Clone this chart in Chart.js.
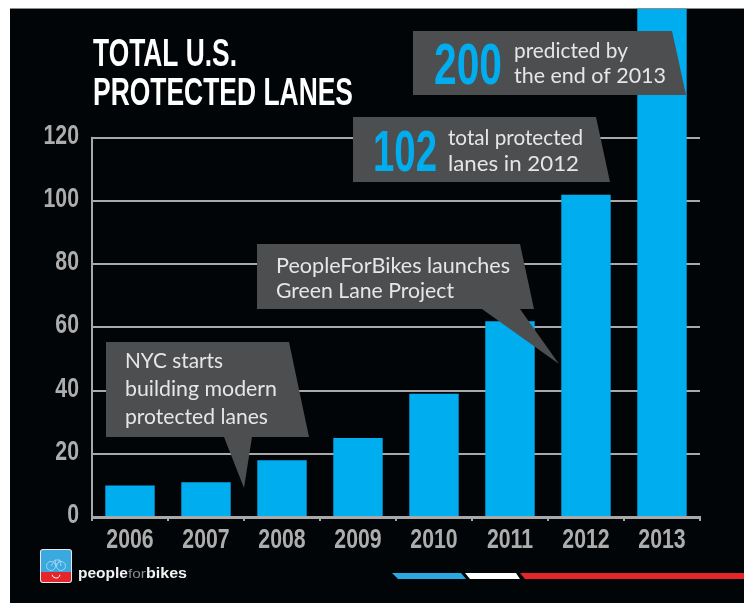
<!DOCTYPE html>
<html>
<head>
<meta charset="utf-8">
<style>
html, body { margin: 0; padding: 0; background: #fff; }
canvas { display: block; }
</style>
</head>
<body>
<canvas id="lanes" width="744" height="603"></canvas>
<script src="https://cdn.jsdelivr.net/npm/chart.js@4/dist/chart.umd.min.js"></script>
<script>
var years = ['2006', '2007', '2008', '2009', '2010', '2011', '2012', '2013'];
var lanes = [10, 11, 18, 25, 39, 62, 102, 200];
var yTicks = [0, 20, 40, 60, 80, 100, 120];

var NARROW = '"Liberation Sans", sans-serif';
var SOFT = 'Lato, "Noto Sans", sans-serif';
var BLUE = '#00aeef';
var GREY = '#4d4e50';
var LINE = '#a9a9a9';
var LABEL = '#adadad';
var NOTE = '#e6e6e6';

function polygon(ctx, pts, color) {
    ctx.fillStyle = color;
    ctx.beginPath();
    ctx.moveTo(pts[0][0], pts[0][1]);
    for (var i = 1; i < pts.length; i++) {
        ctx.lineTo(pts[i][0], pts[i][1]);
    }
    ctx.closePath();
    ctx.fill();
}

// draws text on a baseline and squeezes it to the wanted width
function fitText(ctx, text, x, y, width, font, color) {
    ctx.save();
    ctx.font = font;
    ctx.fillStyle = color;
    ctx.textAlign = 'left';
    ctx.textBaseline = 'alphabetic';
    ctx.translate(x, y);
    ctx.scale(width / ctx.measureText(text).width, 1);
    ctx.fillText(text, 0, 0);
    ctx.restore();
}

// no condensed face is installed, so the axis labels get squeezed by hand
function tickText(ctx, text, x, y, align) {
    ctx.save();
    ctx.font = 'bold 28px ' + NARROW;
    ctx.fillStyle = LABEL;
    ctx.textAlign = align;
    ctx.textBaseline = 'alphabetic';
    ctx.translate(x, y);
    ctx.scale(0.76, 1);
    ctx.fillText(text, 0, 0);
    ctx.restore();
}

function drawLogo(ctx) {
    ctx.fillStyle = '#e8e8e8';
    ctx.beginPath();
    ctx.roundRect(40, 549, 32, 34, 3);
    ctx.fill();
    ctx.save();
    ctx.beginPath();
    ctx.roundRect(41, 550, 30, 32, 2);
    ctx.clip();
    ctx.fillStyle = '#3aa9e0';
    ctx.fillRect(41, 550, 30, 22);
    ctx.fillStyle = '#e4262a';
    ctx.fillRect(41, 572, 30, 10);
    ctx.restore();
    // bike and smile
    ctx.strokeStyle = '#9fd4ef';
    ctx.lineWidth = 1;
    ctx.beginPath();
    ctx.arc(51, 566, 4.5, 0, Math.PI * 2);
    ctx.moveTo(65.5, 566);
    ctx.arc(61, 566, 4.5, 0, Math.PI * 2);
    ctx.moveTo(51, 566);
    ctx.lineTo(55, 560);
    ctx.lineTo(60, 560);
    ctx.lineTo(61, 566);
    ctx.moveTo(55, 560);
    ctx.lineTo(56, 566);
    ctx.lineTo(60, 560);
    ctx.stroke();
    ctx.strokeStyle = '#fff';
    ctx.beginPath();
    ctx.arc(56, 574, 4, 0.2, Math.PI - 0.2);
    ctx.stroke();

    fitText(ctx, 'people', 78, 578, 50, 'bold 15px "Liberation Sans", sans-serif', '#f2f2f2');
    fitText(ctx, 'for', 128, 578, 18, '12px "Liberation Sans", sans-serif', '#8a8a8a');
    fitText(ctx, 'bikes', 146, 578, 41, 'bold 15px "Liberation Sans", sans-serif', '#f2f2f2');
}

var backdrop = {
    id: 'backdrop',
    beforeDraw: function(chart) {
        var ctx = chart.ctx;
        ctx.fillStyle = '#8c8c8c';
        ctx.fillRect(10, 8, 734, 1);
        ctx.fillStyle = '#020507';
        ctx.fillRect(10, 9, 734, 594);
    },
    beforeDatasetsDraw: function(chart) {     // left axis stops at the 120 line
        var ctx = chart.ctx;
        var y = chart.scales.y;
        ctx.fillStyle = LINE;
        ctx.fillRect(chart.chartArea.left - 1, y.getPixelForValue(120) - 1, 2, y.getPixelForValue(0) - y.getPixelForValue(120) + 2);
    }
};

var notes = {
    id: 'notes',
    afterDraw: function(chart) {
        var ctx = chart.ctx;
        var x = chart.scales.x;
        var y = chart.scales.y;

        // axis labels, placed by the scales
        x.ticks.forEach(function(tick, i) {
            tickText(ctx, x.getLabelForValue(tick.value), x.getPixelForTick(i), 548, 'center');
        });
        y.ticks.forEach(function(tick, i) {
            tickText(ctx, String(tick.value), 79, y.getPixelForTick(i) + 6, 'right');
        });

        fitText(ctx, 'TOTAL U.S.', 93, 66, 144, 'bold 38px ' + NARROW, '#fff');
        fitText(ctx, 'PROTECTED LANES', 93, 105, 260, 'bold 38px ' + NARROW, '#fff');

        polygon(ctx, [[413, 31], [672, 31], [686, 95], [413, 95]], GREY);
        fitText(ctx, '200', 434, 84, 68, 'bold 58px ' + NARROW, BLUE);
        fitText(ctx, 'predicted by', 514, 58, 114, '21px ' + SOFT, NOTE);
        fitText(ctx, 'the end of 2013', 514, 83, 152, '21px ' + SOFT, NOTE);

        polygon(ctx, [[353, 117], [596, 117], [610, 182], [353, 182]], GREY);
        fitText(ctx, '102', 373, 171, 64, 'bold 58px ' + NARROW, BLUE);
        fitText(ctx, 'total protected', 448, 145, 135, '21px ' + SOFT, NOTE);
        fitText(ctx, 'lanes in 2012', 448, 171, 131, '21px ' + SOFT, NOTE);

        polygon(ctx, [[257, 244], [520, 244], [534, 309], [520, 309], [559, 364], [482, 309], [257, 309]], GREY);
        fitText(ctx, 'PeopleForBikes launches', 276, 273, 234, '21px ' + SOFT, NOTE);
        fitText(ctx, 'Green Lane Project', 276, 298, 178, '21px ' + SOFT, NOTE);

        polygon(ctx, [[106, 342], [289, 342], [309, 437], [252, 437], [244, 488], [224, 437], [106, 437]], GREY);
        fitText(ctx, 'NYC starts', 125, 368, 98, '21px ' + SOFT, NOTE);
        fitText(ctx, 'building modern', 125, 396, 152, '21px ' + SOFT, NOTE);
        fitText(ctx, 'protected lanes', 125, 424, 143, '21px ' + SOFT, NOTE);

        drawLogo(ctx);

        // stripe at the bottom right
        polygon(ctx, [[392, 573], [461, 573], [466, 579], [398, 579]], '#29a9e0');
        polygon(ctx, [[465, 573], [516, 573], [520, 579], [470, 579]], '#ffffff');
        polygon(ctx, [[520, 573], [744, 573], [744, 579], [525, 579]], '#e4262a');
    }
};

var chart = new Chart(document.getElementById('lanes'), {
    type: 'bar',
    data: {
        labels: years,
        datasets: [{
            label: 'Total U.S. protected lanes',
            data: lanes,
            backgroundColor: BLUE,
            categoryPercentage: 0.65,
            barPercentage: 1
        }]
    },
    options: {
        responsive: false,
        animation: false,
        layout: { padding: { top: 9, right: 44, left: 0, bottom: 0 } },
        plugins: {
            legend: { display: false },
            tooltip: { enabled: false }
        },
        scales: {
            x: {
                afterFit: function(scale) {
                    scale.height = 86;
                    scale.paddingLeft = 0;
                    scale.paddingRight = 0;
                },
                border: { color: LINE, width: 3 },
                grid: { drawOnChartArea: false, color: LINE, lineWidth: 2, tickLength: 4 },
                ticks: { display: false }
            },
            y: {
                min: 0,
                max: 160.8,     // the 2013 bar runs off the top of the picture
                afterFit: function(scale) {
                    scale.width = 92;
                    scale.paddingTop = 0;
                    scale.paddingBottom = 0;
                },
                afterBuildTicks: function(axis) {
                    axis.ticks = yTicks.map(function(v) { return { value: v }; });
                },
                border: { display: false },
                grid: { color: LINE, lineWidth: 2, drawTicks: false },
                ticks: { display: false }
            }
        }
    },
    plugins: [backdrop, notes]
});
</script>
</body>
</html>
